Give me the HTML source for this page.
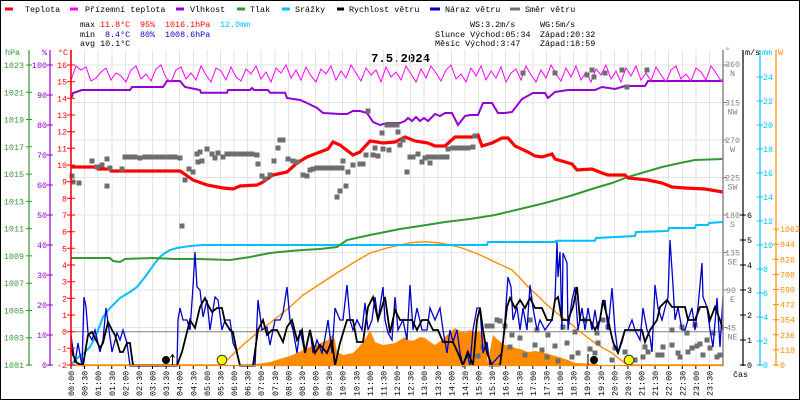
<!DOCTYPE html>
<html><head><meta charset="utf-8"><style>
html,body{margin:0;padding:0;background:#fff}
svg{display:block}
text{font-family:"Liberation Mono",monospace;font-size:8.4px}
</style></head><body>
<svg width="800" height="400" viewBox="0 0 800 400" xmlns="http://www.w3.org/2000/svg">
<rect x="0.5" y="0.5" width="799" height="399" fill="#fff" stroke="#000" stroke-width="1"/>

<!-- legend -->
<g stroke-width="3">
<line x1="5" y1="9" x2="13" y2="9" stroke="#ff0000"/>
<line x1="70" y1="9" x2="78" y2="9" stroke="#ff00ff"/>
<line x1="176" y1="9" x2="184" y2="9" stroke="#9400d3"/>
<line x1="237" y1="9" x2="245" y2="9" stroke="#339933"/>
<line x1="282" y1="9" x2="290" y2="9" stroke="#00bfff"/>
<line x1="337" y1="9" x2="344" y2="9" stroke="#000"/>
<line x1="430" y1="9" x2="440" y2="9" stroke="#0000cc"/>
<line x1="510" y1="9" x2="520" y2="9" stroke="#707070"/>
</g>
<g fill="#000">
<text x="25" y="12">Teplota</text>
<text x="85" y="12">Přízemní teplota</text>
<text x="190" y="12">Vlhkost</text>
<text x="250" y="12">Tlak</text>
<text x="295" y="12">Srážky</text>
<text x="349" y="12">Rychlost větru</text>
<text x="445" y="12">Náraz větru</text>
<text x="525" y="12">Směr větru</text>
</g>

<!-- stats -->
<text x="80" y="27">max</text>
<text x="100" y="27" fill="#ff0000">11.8°C</text>
<text x="140" y="27" fill="#ff0000">95%</text>
<text x="165" y="27" fill="#ff0000">1016.1hPa</text>
<text x="220" y="27" fill="#00bfff">12.0mm</text>
<text x="80" y="37">min</text>
<text x="105" y="37" fill="#0000cc">8.4°C</text>
<text x="140" y="37" fill="#0000cc">80%</text>
<text x="165" y="37" fill="#0000cc">1008.6hPa</text>
<text x="80" y="46">avg 10.1°C</text>
<text x="470" y="27">WS:3.2m/s</text>
<text x="540" y="27">WG:5m/s</text>
<text x="435" y="37">Slunce Východ:05:34</text>
<text x="540" y="37">Západ:20:32</text>
<text x="435" y="46">Měsíc  Východ:3:47</text>
<text x="540" y="46">Západ:18:59</text>
<text x="371" y="62" font-weight="bold" style="font-size:12.3px">7.5.2024</text>

<!-- grid -->
<g stroke="#e3e3e3" stroke-width="1" shape-rendering="crispEdges">
<line x1="71" y1="65" x2="723" y2="65"/><line x1="71" y1="102.5" x2="723" y2="102.5"/>
<line x1="71" y1="140" x2="723" y2="140"/><line x1="71" y1="177.5" x2="723" y2="177.5"/>
<line x1="71" y1="215" x2="723" y2="215"/><line x1="71" y1="252.5" x2="723" y2="252.5"/>
<line x1="71" y1="290" x2="723" y2="290"/><line x1="71" y1="327.5" x2="723" y2="327.5"/>
<path d="M84.58 50V365M98.17 50V365M111.75 50V365M125.33 50V365M138.92 50V365M152.5 50V365M166.08 50V365M179.67 50V365M193.25 50V365M206.83 50V365M220.42 50V365M234 50V365M247.58 50V365M261.17 50V365M274.75 50V365M288.33 50V365M301.92 50V365M315.5 50V365M329.08 50V365M342.67 50V365M356.25 50V365M369.83 50V365M383.42 50V365M397 50V365M410.58 50V365M424.17 50V365M437.75 50V365M451.33 50V365M464.92 50V365M478.5 50V365M492.08 50V365M505.67 50V365M519.25 50V365M532.83 50V365M546.42 50V365M560 50V365M573.58 50V365M587.17 50V365M600.75 50V365M614.33 50V365M627.92 50V365M641.5 50V365M655.08 50V365M668.67 50V365M682.25 50V365M695.83 50V365M709.42 50V365"/>
</g>
<line x1="71" y1="331.7" x2="723" y2="331.7" stroke="#808080" stroke-width="1"/>

<!-- radiation fill -->
<polygon fill="#ff8c00" points="243,365 257,364 270,362 283,358 290,356 297,353 303,350 310,347 316,345 323,342 328,340 332,335 335,340 337,352 343,355 348,354 353,353 358,348 363,342 367,336 370,330 373,337 375,342 383,345 390,344 395,343 400,340 405,337 410,341 415,340 420,337 425,338 430,342 435,345 442,340 448,334 455,328 460,331 465,333 470,330 475,332 480,331 483,335 486,350 488,363 490,350 493,335 498,340 505,345 510,346 515,348 520,349 528,352 535,351 545,353 552,355 562,358 568,360 575,363 598,364 598,365"/>

<!-- orange theoretical radiation line -->
<polyline fill="none" stroke="#ff8c00" stroke-width="1.4" points="71,365 222,365 230,357 243,345 257,333 270,323 290,307 303,295 323,282 337,273 353,263 370,253 387,248 400,245 412,242.5 425,241.7 440,243 450,245 462,248 478,254 495,262 512,270 520,278 528,287 537,295 545,303 553,310 562,317 570,323 578,330 587,337 595,343 603,348 612,353 618,358 625,363 629,365 723,365"/>

<!-- precipitation -->
<polyline fill="none" stroke="#00bfff" stroke-width="2" points="71,365 75,360 80,356 85,352 90,347 95,338 100,325 103,317 110,308 120,298 130,292 137,287 145,277 150,270 155,263 160,257 165,253 170,250 177,248 190,246 203,245 487,245 488,242 555,242 556,240.7 595,240.7 596,238 635,236 636,232 668,231 669,228 695,228 696,225 708,225 709,223 723,222"/>

<!-- pressure -->
<polyline fill="none" stroke="#339933" stroke-width="2" points="71,258 110,258 113,261 120,262 125,259 153,258 175,259 200,259 230,260 250,257 270,253 290,251 303,250 320,249 337,247 347,240 370,235 400,229 420,226 445,222 470,219 495,215 520,209 545,203 570,196 595,188 612,183 628,177 645,172 662,167 680,163 695,160 723,159"/>

<!-- humidity -->
<polyline fill="none" stroke="#9400d3" stroke-width="2" points="71,99 73,93 82,90 130,90 132,87 163,87 167,81 180,81 185,87 200,90 201,92.7 227,92.7 228,90 250,90 252,88 254,90 268,90 270,92.7 285,92.7 287,98 300,100 307,103 317,108 323,113 340,114 347,114 353,111 360,111 367,113 373,122 380,125 387,123 400,123 405,121 408,118 412,121 416,117 420,121 424,118 428,121 435,114 440,116 445,113 452,113 458,125 465,116 470,115 478,115 483,103 492,103 498,113 505,113 512,112 522,99 533,93 545,93 548,98 555,92 568,90 595,90 602,87 615,89 625,86 645,86 648,81 723,81"/>

<!-- ground temperature -->
<polyline fill="none" stroke="#ff00ff" stroke-width="1" points="71,80 76,66 81,70 86,67 91,81 96,78 101,72 106,68 111,80 116,73 121,76 126,82 131,70 136,66 141,79 146,74 151,81 156,69 161,65 166,78 171,82 176,70 181,67 186,79 191,73 196,80 201,66 206,75 211,82 216,68 221,71 226,80 231,67 236,77 241,81 246,69 251,74 256,66 261,79 266,72 271,82 276,68 281,73 286,65 291,78 296,70 301,80 306,67 311,76 316,82 321,69 326,74 331,66 336,80 341,71 346,78 351,65 356,73 361,81 366,68 371,75 376,70 381,82 386,67 391,77 396,72 401,80 406,66 411,74 416,82 421,69 426,78 431,66 436,73 441,81 446,70 451,65 456,79 461,74 466,82 471,68 476,76 481,66 486,80 491,71 496,78 501,67 506,82 511,73 516,69 521,80 526,66 531,75 536,82 541,70 546,78 551,65 556,74 561,81 566,68 571,77 576,66 581,80 586,72 591,82 596,69 601,75 606,65 611,79 616,71 621,82 626,68 631,76 636,66 641,80 646,73 651,81 656,67 661,75 666,82 671,70 676,66 681,79 686,74 691,81 696,68 701,72 706,80 711,66 716,73 721,81 723,78"/>

<!-- temperature -->
<polyline fill="none" stroke="#ff0000" stroke-width="3.2" points="71,167 80,167 97,167 98,169 110,169 111,171 180,171 183,173 193,180 207,185 223,188 233,189 240,186 257,185 263,182 273,175 287,172 297,163 307,157 320,152 328,149 333,142 340,145 353,155 360,152 370,141 377,142 383,143 395,142 405,137 415,141 428,143 435,146 445,146 455,137 472,137 478,135 482,146 492,143 502,138 508,138 515,146 528,152 535,156 542,157 552,154 555,159 572,164 577,170 592,169 602,173 608,175 625,175 628,178 648,180 662,183 672,187 685,188 705,189 723,192"/>

<!-- wind direction squares -->
<path fill="none" stroke="#6e6e6e" stroke-width="5" stroke-linecap="square" d="M72 176h0M73 182h0M79 183h0M92 161h0M97 167h0M102 165h0M107 159h0M107 186h0M110 168h0M122 169h0M125 157h0M130 157h0M135 157h0M140 158h0M145 157h0M150 157h0M155 157h0M160 157h0M165 157h0M170 157h0M175 157h0M180 158h0M182 226h0M185 180h0M189 169h0M193 172h0M197 154h0M200 152h0M202 161h0M198 162h0M207 149h0M212 154h0M215 158h0M218 153h0M223 157h0M227 154h0M232 154h0M237 154h0M242 154h0M247 154h0M252 154h0M257 155h0M258 164h0M262 176h0M265 179h0M270 175h0M274 161h0M278 148h0M280 140h0M283 140h0M288 159h0M293 161h0M297 162h0M303 175h0M307 176h0M310 170h0M313 169h0M317 168h0M322 168h0M327 168h0M332 168h0M337 168h0M342 168h0M337 197h0M340 191h0M346 186h0M343 161h0M348 172h0M353 165h0M360 164h0M363 164h0M366 155h0M368 111h0M373 155h0M375 148h0M378 156h0M382 133h0M383 149h0M387 125h0M389 150h0M392 125h0M398 132h0M400 145h0M397 125h0M403 140h0M407 172h0M410 157h0M413 157h0M418 154h0M422 162h0M425 158h0M430 163h0M428 157h0M433 157h0M438 157h0M443 157h0M447 157h0M448 149h0M453 148h0M458 148h0M463 148h0M468 148h0M473 147h0M475 136h0M523 73h0M555 73h0M587 75h0M592 70h0M594 77h0M605 73h0M622 70h0M627 87h0M647 70h0M478 356h0M483 347h0M487 326h0M492 326h0M497 320h0M500 321h0M505 326h0M510 347h0M512 335h0M520 338h0M525 355h0M530 320h0M535 345h0M537 330h0M542 350h0M547 357h0M548 335h0M555 346h0M558 361h0M563 327h0M567 343h0M572 357h0M575 332h0M578 353h0M585 320h0M590 349h0M595 353h0M597 333h0M598 343h0M603 320h0M608 327h0M612 360h0M615 348h0M625 352h0M635 360h0M643 357h0M645 347h0M648 352h0M658 355h0M662 355h0M663 347h0M672 330h0M672 345h0M678 353h0M680 357h0M682 327h0M687 333h0M688 352h0M692 348h0M695 325h0M697 346h0M700 344h0M703 355h0M707 340h0M710 348h0M713 333h0M717 357h0M720 355h0"/>

<!-- gusts -->
<polyline fill="none" stroke="#0000cc" stroke-width="1.3" points="71,335 72,343 75,363 78,343 82,366 84,297 86,307 88,333 92,340 95,330 100,352 103,340 106,308 109,330 112,352 117,333 120,340 123,330 127,343 130,366 177,366 178,320 180,308 183,320 187,320 190,330 193,287 195,252 197,287 200,290 203,317 207,300 210,330 215,297 218,300 222,330 225,320 230,320 233,343 237,352 240,366 255,366 258,300 262,330 267,327 270,345 275,320 280,320 283,313 287,287 290,320 293,330 297,353 300,330 305,353 310,330 313,353 317,340 322,353 325,338 328,320 332,353 335,308 340,320 343,320 347,285 350,320 353,330 357,320 362,330 365,303 368,330 372,320 375,297 378,320 383,287 385,320 388,333 392,340 395,297 398,330 403,320 407,340 410,285 413,330 417,308 422,330 427,330 430,308 435,320 440,308 443,330 447,353 450,330 453,342 457,330 460,353 463,365 467,353 470,366 473,330 477,308 480,308 483,353 487,342 490,366 502,353 505,320 508,277 511,287 513,320 517,307 520,330 523,308 527,330 530,285 533,308 537,330 540,320 545,330 552,320 555,300 557,242 558,277 560,252 562,330 563,253 567,263 568,330 572,300 575,287 578,330 582,308 585,330 588,308 592,330 595,310 598,330 602,307 605,300 608,330 612,288 615,330 618,353 622,342 625,330 628,330 632,320 635,330 640,340 643,308 647,330 650,337 652,352 655,285 658,308 662,320 665,308 668,297 670,240 673,285 675,320 678,307 682,330 685,330 688,320 692,308 695,330 698,307 702,263 703,297 707,307 710,330 713,347 717,298 720,347 723,297"/>

<!-- wind speed -->
<polyline fill="none" stroke="#000" stroke-width="1.8" points="71,343 73,355 77,363 83,365.5 88,335 92,332 97,342 100,348 103,343 108,322 112,330 115,335 120,352 123,352 127,343 130,343 133,365.5 177,365.5 182,352 187,332 190,320 195,328 200,307 205,298 208,305 212,312 217,308 222,308 225,322 230,330 233,332 237,353 240,365.5 253,365.5 258,330 263,320 267,335 272,330 277,330 283,342 287,327 292,320 297,340 302,330 305,353 310,330 315,353 320,345 327,353 332,340 335,365.5 340,343 347,320 353,320 357,342 363,342 368,307 373,297 378,320 385,297 390,333 395,310 400,320 412,320 417,330 422,320 428,320 433,330 438,330 443,342 453,342 458,353 463,365.5 468,352 473,365.5 477,320 480,308 483,330 487,353 492,365.5 500,365.5 503,342 507,307 510,298 515,308 520,300 525,308 530,298 535,308 542,308 547,320 552,320 555,300 558,297 562,320 568,320 573,307 577,287 580,320 590,320 595,330 600,320 603,300 608,320 613,342 618,353 622,340 625,330 642,330 645,342 650,330 657,320 660,307 667,300 672,307 685,307 688,320 695,320 700,307 707,307 710,320 715,307 720,320 723,330"/>

<!-- sun / moon markers -->
<circle cx="166" cy="360" r="4" fill="#000"/>
<line x1="172.5" y1="365" x2="172.5" y2="355" stroke="#000" stroke-width="1"/>
<path d="M170.5 357.5L172.5 354.5L174.5 357.5" fill="none" stroke="#000" stroke-width="1"/>
<circle cx="222" cy="360" r="4.8" fill="#ffff00" stroke="#333" stroke-width="1"/>
<line x1="588" y1="354" x2="588" y2="366" stroke="#000" stroke-width="1"/>
<circle cx="594" cy="360" r="4" fill="#000"/>
<circle cx="629" cy="360" r="4.8" fill="#ffff00" stroke="#333" stroke-width="1"/>

<!-- baseline & bottom ticks -->
<line x1="71" y1="365.5" x2="723" y2="365.5" stroke="#ff8c00" stroke-width="1.2"/>
<path stroke="#000" stroke-width="1" d="M71 366V369M84.58 366V369M98.17 366V369M111.75 366V369M125.33 366V369M138.92 366V369M152.5 366V369M166.08 366V369M179.67 366V369M193.25 366V369M206.83 366V369M220.42 366V369M234 366V369M247.58 366V369M261.17 366V369M274.75 366V369M288.33 366V369M301.92 366V369M315.5 366V369M329.08 366V369M342.67 366V369M356.25 366V369M369.83 366V369M383.42 366V369M397 366V369M410.58 366V369M424.17 366V369M437.75 366V369M451.33 366V369M464.92 366V369M478.5 366V369M492.08 366V369M505.67 366V369M519.25 366V369M532.83 366V369M546.42 366V369M560 366V369M573.58 366V369M587.17 366V369M600.75 366V369M614.33 366V369M627.92 366V369M641.5 366V369M655.08 366V369M668.67 366V369M682.25 366V369M695.83 366V369M709.42 366V369"/>

<!-- time labels -->
<g fill="#000">
<text transform="translate(74,396) rotate(-90)">00:00</text>
<text transform="translate(87.6,396) rotate(-90)">00:30</text>
<text transform="translate(101.2,396) rotate(-90)">01:00</text>
<text transform="translate(114.8,396) rotate(-90)">01:30</text>
<text transform="translate(128.3,396) rotate(-90)">02:00</text>
<text transform="translate(141.9,396) rotate(-90)">02:30</text>
<text transform="translate(155.5,396) rotate(-90)">03:00</text>
<text transform="translate(169.1,396) rotate(-90)">03:30</text>
<text transform="translate(182.7,396) rotate(-90)">04:00</text>
<text transform="translate(196.3,396) rotate(-90)">04:30</text>
<text transform="translate(209.8,396) rotate(-90)">05:00</text>
<text transform="translate(223.4,396) rotate(-90)">05:30</text>
<text transform="translate(237,396) rotate(-90)">06:00</text>
<text transform="translate(250.6,396) rotate(-90)">06:30</text>
<text transform="translate(264.2,396) rotate(-90)">07:00</text>
<text transform="translate(277.8,396) rotate(-90)">07:30</text>
<text transform="translate(291.3,396) rotate(-90)">08:00</text>
<text transform="translate(304.9,396) rotate(-90)">08:30</text>
<text transform="translate(318.5,396) rotate(-90)">09:00</text>
<text transform="translate(332.1,396) rotate(-90)">09:30</text>
<text transform="translate(345.7,396) rotate(-90)">10:00</text>
<text transform="translate(359.3,396) rotate(-90)">10:30</text>
<text transform="translate(372.8,396) rotate(-90)">11:00</text>
<text transform="translate(386.4,396) rotate(-90)">11:30</text>
<text transform="translate(400,396) rotate(-90)">12:00</text>
<text transform="translate(413.6,396) rotate(-90)">12:30</text>
<text transform="translate(427.2,396) rotate(-90)">13:00</text>
<text transform="translate(440.8,396) rotate(-90)">13:30</text>
<text transform="translate(454.3,396) rotate(-90)">14:00</text>
<text transform="translate(467.9,396) rotate(-90)">14:30</text>
<text transform="translate(481.5,396) rotate(-90)">15:00</text>
<text transform="translate(495.1,396) rotate(-90)">15:30</text>
<text transform="translate(508.7,396) rotate(-90)">16:00</text>
<text transform="translate(522.3,396) rotate(-90)">16:30</text>
<text transform="translate(535.8,396) rotate(-90)">17:00</text>
<text transform="translate(549.4,396) rotate(-90)">17:30</text>
<text transform="translate(563,396) rotate(-90)">18:00</text>
<text transform="translate(576.6,396) rotate(-90)">18:30</text>
<text transform="translate(590.2,396) rotate(-90)">19:00</text>
<text transform="translate(603.8,396) rotate(-90)">19:30</text>
<text transform="translate(617.3,396) rotate(-90)">20:00</text>
<text transform="translate(630.9,396) rotate(-90)">20:30</text>
<text transform="translate(644.5,396) rotate(-90)">21:00</text>
<text transform="translate(658.1,396) rotate(-90)">21:30</text>
<text transform="translate(671.7,396) rotate(-90)">22:00</text>
<text transform="translate(685.3,396) rotate(-90)">22:30</text>
<text transform="translate(698.8,396) rotate(-90)">23:00</text>
<text transform="translate(712.4,396) rotate(-90)">23:30</text>
</g>
<text x="733" y="377">čas</text>

<!-- left axes -->
<g stroke-width="1.2">
<line x1="29" y1="50" x2="29" y2="366" stroke="#339933"/>
<line x1="50" y1="50" x2="50" y2="366" stroke="#9400d3"/>
<line x1="71" y1="50" x2="71" y2="366" stroke="#ff0000" stroke-width="1.6"/>
</g>
<path stroke="#339933" stroke-width="1" d="M26 65H32M26 92.3H32M26 119.5H32M26 146.8H32M26 174.1H32M26 201.4H32M26 228.6H32M26 255.9H32M26 283.2H32M26 310.5H32M26 337.7H32M26 365H32"/>
<path stroke="#9400d3" stroke-width="1" d="M47 65H53M47 95H53M47 125H53M47 155H53M47 185H53M47 215H53M47 245H53M47 275H53M47 305H53M47 335H53M47 365H53"/>
<path stroke="#ff0000" stroke-width="1" d="M67 65H75M67 81.7H75M67 98.3H75M67 115H75M67 131.7H75M67 148.3H75M67 165H75M67 181.7H75M67 198.3H75M67 215H75M67 231.7H75M67 248.3H75M67 265H75M67 281.7H75M67 298.3H75M67 315H75M67 331.7H75M67 348.3H75M67 365H75"/>
<g fill="#339933" text-anchor="end">
<text x="24" y="68">1023</text><text x="24" y="95.3">1021</text><text x="24" y="122.5">1019</text><text x="24" y="149.8">1017</text><text x="24" y="177.1">1015</text><text x="24" y="204.4">1013</text><text x="24" y="231.6">1011</text><text x="24" y="258.9">1009</text><text x="24" y="286.2">1007</text><text x="24" y="313.5">1005</text><text x="24" y="340.7">1003</text><text x="24" y="368">1001</text>
</g>
<g fill="#9400d3" text-anchor="end">
<text x="47" y="55">%</text>
<text x="47" y="68">100</text><text x="47" y="98">90</text><text x="47" y="128">80</text><text x="47" y="158">70</text><text x="47" y="188">60</text><text x="47" y="218">50</text><text x="47" y="248">40</text><text x="47" y="278">30</text><text x="47" y="308">20</text><text x="47" y="338">10</text><text x="47" y="368">0</text>
</g>
<g fill="#ff0000" text-anchor="end">
<text x="68" y="55">°C</text>
<text x="67" y="68">16</text><text x="67" y="84.7">15</text><text x="67" y="101.3">14</text><text x="67" y="118">13</text><text x="67" y="134.7">12</text><text x="67" y="151.3">11</text><text x="67" y="168">10</text><text x="67" y="184.7">9</text><text x="67" y="201.3">8</text><text x="67" y="218">7</text><text x="67" y="234.7">6</text><text x="67" y="251.3">5</text><text x="67" y="268">4</text><text x="67" y="284.7">3</text><text x="67" y="301.3">2</text><text x="67" y="318">1</text><text x="67" y="334.7">0</text><text x="67" y="351.3">-1</text><text x="67" y="368">-2</text>
</g>

<!-- right axes -->
<line x1="723" y1="50" x2="723" y2="366" stroke="#808080" stroke-width="1.4"/>
<line x1="743" y1="50" x2="743" y2="366" stroke="#000" stroke-width="1.2"/>
<line x1="760" y1="50" x2="760" y2="366" stroke="#00bfff" stroke-width="1.2"/>
<line x1="776" y1="50" x2="776" y2="366" stroke="#ff8c00" stroke-width="1.2"/>
<path stroke="#808080" stroke-width="1" d="M723 65H727M723 102.5H727M723 140H727M723 177.5H727M723 215H727M723 252.5H727M723 290H727M723 327.5H727"/>
<path stroke="#000" stroke-width="1" d="M740 365H746M740 340H746M740 315H746M740 290H746M740 265H746M740 240H746M740 215H746"/>
<path stroke="#00bfff" stroke-width="1" d="M757 365H763M757 341H763M757 317H763M757 293H763M757 269H763M757 245H763M757 221H763M757 197H763M757 173H763M757 149H763M757 125H763M757 101H763M757 77H763"/>
<path stroke="#ff8c00" stroke-width="1" d="M773 365H779M773 349.9H779M773 334.8H779M773 319.7H779M773 304.6H779M773 289.5H779M773 274.4H779M773 259.3H779M773 244.2H779M773 229.1H779"/>
<g fill="#808080">
<text x="725" y="53">°</text>
<text x="725" y="67">360</text><text x="732.5" y="76" text-anchor="middle">N</text>
<text x="725" y="105.5">315</text><text x="732.5" y="114.5" text-anchor="middle">NW</text>
<text x="725" y="143">270</text><text x="732.5" y="152" text-anchor="middle">W</text>
<text x="725" y="180.5">225</text><text x="732.5" y="189.5" text-anchor="middle">SW</text>
<text x="725" y="218">180</text><text x="732.5" y="227" text-anchor="middle">S</text>
<text x="725" y="255.5">135</text><text x="732.5" y="264.5" text-anchor="middle">SE</text>
<text x="726" y="293">90</text><text x="732.5" y="302" text-anchor="middle">E</text>
<text x="726" y="330.5">45</text><text x="732.5" y="339.5" text-anchor="middle">NE</text>
</g>
<g fill="#000">
<text x="745" y="55">m/s</text>
<text x="747" y="368">0</text><text x="747" y="343">1</text><text x="747" y="318">2</text><text x="747" y="293">3</text><text x="747" y="268">4</text><text x="747" y="243">5</text><text x="747" y="218">6</text>
</g>
<g fill="#00bfff">
<text x="762" y="55">mm</text>
<text x="763" y="368">0</text><text x="763" y="344">2</text><text x="763" y="320">4</text><text x="763" y="296">6</text><text x="763" y="272">8</text><text x="763" y="248">10</text><text x="763" y="224">12</text><text x="763" y="200">14</text><text x="763" y="176">16</text><text x="763" y="152">18</text><text x="763" y="128">20</text><text x="763" y="104">22</text><text x="763" y="80">24</text>
</g>
<g fill="#ff8c00">
<text x="778" y="55">W</text>
<text x="780" y="368">0</text><text x="780" y="352.9">118</text><text x="780" y="337.8">236</text><text x="780" y="322.7">354</text><text x="780" y="307.6">472</text><text x="780" y="292.5">590</text><text x="780" y="277.4">708</text><text x="780" y="262.3">826</text><text x="780" y="247.2">944</text><text x="780" y="232.1">1062</text>
</g>
<text x="5" y="55" fill="#339933">hPa</text>
</svg>
</body></html>
